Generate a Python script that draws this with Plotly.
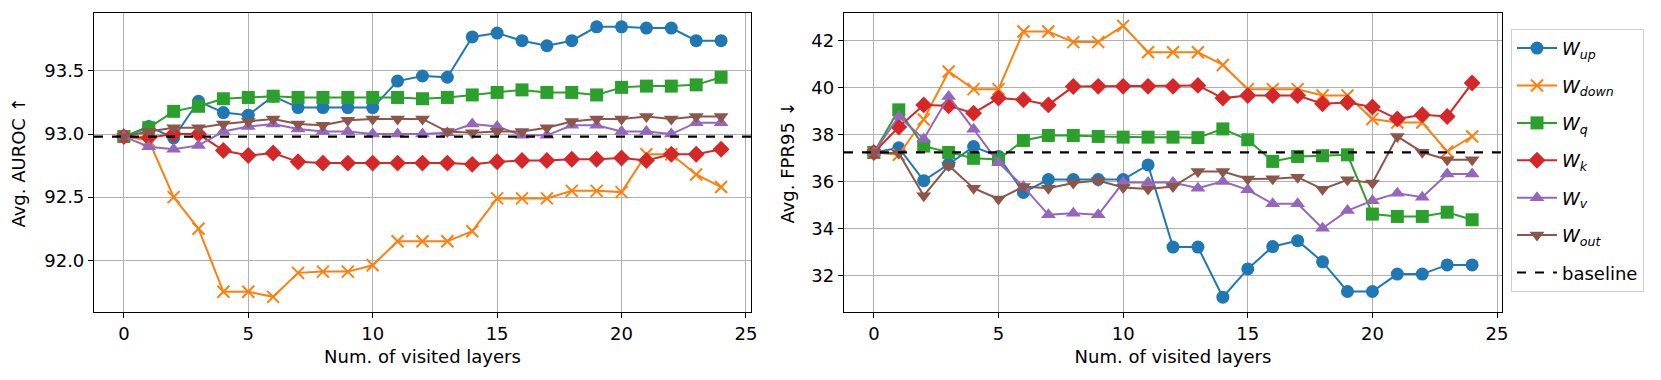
import plotly.graph_objects as go
from plotly.subplots import make_subplots

layers = list(range(25))

# Avg. AUROC (left panel)
auroc_up = [92.98, 93.06, 92.97, 93.26, 93.17, 93.15, 93.30, 93.21, 93.21, 93.21, 93.21, 93.42, 93.46,
            93.45, 93.77, 93.80, 93.74, 93.70, 93.74, 93.85, 93.85, 93.84, 93.84, 93.74, 93.74]
auroc_down = [92.98, 92.95, 92.50, 92.25, 91.75, 91.75, 91.71, 91.90, 91.91, 91.91, 91.96, 92.15, 92.15,
              92.15, 92.23, 92.49, 92.49, 92.49, 92.55, 92.55, 92.54, 92.84, 92.84, 92.68, 92.58]
auroc_q = [92.98, 93.05, 93.18, 93.22, 93.28, 93.29, 93.30, 93.29, 93.29, 93.29, 93.29, 93.29, 93.28,
           93.29, 93.31, 93.33, 93.35, 93.33, 93.33, 93.31, 93.37, 93.38, 93.38, 93.39, 93.45]
auroc_k = [92.98, 92.97, 93.00, 93.00, 92.87, 92.83, 92.85, 92.78, 92.77, 92.77, 92.77, 92.77, 92.77,
           92.77, 92.76, 92.78, 92.79, 92.79, 92.80, 92.80, 92.81, 92.79, 92.84, 92.84, 92.88]
auroc_v = [92.98, 92.90, 92.88, 92.91, 93.02, 93.06, 93.08, 93.04, 93.02, 93.02, 93.00, 93.00, 93.00,
           93.01, 93.08, 93.06, 92.99, 92.99, 93.07, 93.07, 93.02, 93.02, 93.00, 93.09, 93.09]
auroc_out = [92.98, 93.02, 93.05, 93.05, 93.08, 93.10, 93.12, 93.08, 93.07, 93.11, 93.12, 93.12, 93.12,
             93.02, 93.01, 93.02, 93.02, 93.05, 93.10, 93.12, 93.12, 93.14, 93.12, 93.14, 93.14]
auroc_baseline = 92.98

# Avg. FPR95 (right panel)
fpr_up = [37.25, 37.45, 36.05, 36.75, 37.50, 37.08, 35.55, 36.10, 36.10, 36.10, 36.10, 36.72, 33.23,
          33.23, 31.10, 32.30, 33.25, 33.50, 32.60, 31.34, 31.34, 32.08, 32.08, 32.47, 32.47]
fpr_down = [37.25, 37.15, 38.65, 40.69, 39.94, 39.94, 42.39, 42.39, 41.94, 41.94, 42.63, 41.51, 41.51,
            41.51, 40.97, 39.94, 39.94, 39.94, 39.67, 39.67, 38.67, 38.52, 38.52, 37.29, 37.93]
fpr_q = [37.25, 39.06, 37.52, 37.25, 37.00, 36.95, 37.76, 37.97, 37.97, 37.93, 37.90, 37.90, 37.90,
         37.88, 38.25, 37.79, 36.87, 37.08, 37.11, 37.15, 34.63, 34.53, 34.53, 34.71, 34.39]
fpr_k = [37.25, 38.33, 39.27, 39.23, 38.92, 39.56, 39.49, 39.27, 40.05, 40.06, 40.06, 40.06, 40.06,
         40.10, 39.56, 39.67, 39.67, 39.67, 39.32, 39.37, 39.18, 38.67, 38.85, 38.78, 40.20]
fpr_v = [37.25, 38.78, 37.82, 39.63, 38.24, 36.82, 35.80, 34.60, 34.67, 34.60, 35.97, 35.97, 35.97,
         35.73, 36.02, 35.66, 35.07, 35.07, 34.03, 34.78, 35.20, 35.52, 35.35, 36.33, 36.33]
fpr_out = [37.25, 37.22, 35.41, 36.70, 35.73, 35.27, 35.80, 35.73, 35.95, 36.06, 35.76, 35.70, 35.80,
           36.44, 36.44, 36.12, 36.13, 36.20, 35.69, 36.09, 35.95, 37.93, 37.26, 36.94, 36.94]
fpr_baseline = 37.25

names = ["<i>W<sub>up</sub></i>", "<i>W<sub>down</sub></i>", "<i>W<sub>q</sub></i>",
         "<i>W<sub>k</sub></i>", "<i>W<sub>v</sub></i>", "<i>W<sub>out</sub></i>"]
colors = ["#1f77b4", "#ff7f0e", "#2ca02c", "#d62728", "#9467bd", "#8c564b"]
symbols = ["circle", "x-thin", "square", "diamond", "triangle-up", "triangle-down"]

left = [auroc_up, auroc_down, auroc_q, auroc_k, auroc_v, auroc_out]
right = [fpr_up, fpr_down, fpr_q, fpr_k, fpr_v, fpr_out]

fig = make_subplots(rows=1, cols=2)

for col, series in [(1, left), (2, right)]:
    for i, ys in enumerate(series):
        is_x = symbols[i] == "x-thin"
        fig.add_trace(go.Scatter(
            x=layers, y=ys, mode="lines+markers", name=names[i],
            legendgroup=str(i), showlegend=(col == 2),
            line=dict(color=colors[i], width=2),
            marker=dict(symbol=symbols[i], size=12 if is_x else 13, color=colors[i],
                        line=dict(color=colors[i], width=2 if is_x else 0)),
        ), row=1, col=col)

# dashed baselines
fig.add_hline(y=auroc_baseline, line=dict(color="black", width=2.2, dash="dash"), row=1, col=1)
fig.add_hline(y=fpr_baseline, line=dict(color="black", width=2.2, dash="dash"), row=1, col=2)
fig.add_trace(go.Scatter(x=[None], y=[None], mode="lines", name="baseline", legendgroup="b",
                         line=dict(color="black", width=2.2, dash="dash")), row=1, col=2)

font = dict(family="DejaVu Sans", size=18, color="black")
axis_common = dict(showline=True, linecolor="black", linewidth=1.2, mirror=True,
                   ticks="outside", ticklen=5, tickcolor="black",
                   showgrid=True, gridcolor="#b0b0b0", gridwidth=1,
                   zeroline=False, automargin=False, tickfont=font)

fig.update_xaxes(**axis_common, range=[-1.2, 25.2], tickvals=[0, 5, 10, 15, 20, 25],
                 title=dict(text="Num. of visited layers", font=font, standoff=7))
fig.update_xaxes(domain=[0.0566, 0.4521], row=1, col=1)
fig.update_xaxes(domain=[0.5081, 0.9043], row=1, col=2)

fig.update_yaxes(**axis_common, domain=[0.179, 0.966])
fig.update_yaxes(range=[91.59, 93.96], tickvals=[92.0, 92.5, 93.0, 93.5], tickformat=".1f",
                 title=dict(text="Avg. AUROC ↑", font=font, standoff=13), row=1, col=1)
fig.update_yaxes(range=[30.47, 43.18], tickvals=[32, 34, 36, 38, 40, 42],
                 title=dict(text="Avg. FPR95 ↓", font=font, standoff=12), row=1, col=2)

fig.update_layout(
    width=1661, height=380,
    margin=dict(l=0, r=0, t=0, b=0),
    paper_bgcolor="white", plot_bgcolor="white",
    font=font,
    legend=dict(x=0.9097, y=0.924, xanchor="left", yanchor="top",
                bordercolor="#d0d0d0", borderwidth=1, bgcolor="white",
                font=dict(family="DejaVu Sans", size=18, color="black"),
                traceorder="grouped", tracegroupgap=11, itemwidth=40),
)

fig.write_html("out.html", config={"displayModeBar": False},
               post_script="document.body.style.margin='0';")
